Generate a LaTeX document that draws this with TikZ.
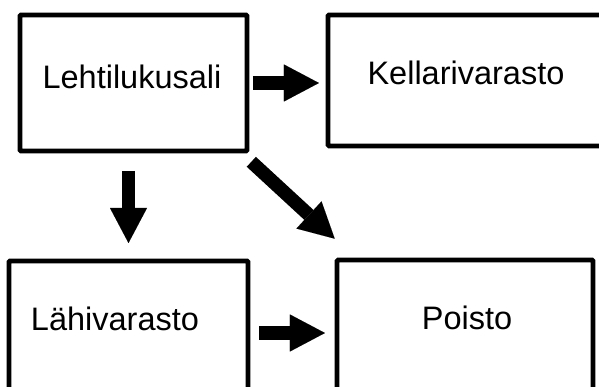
\documentclass[tikz,border=0pt]{standalone}
\usepackage{fontspec}
\setmainfont{Liberation Sans}
\usetikzlibrary{arrows.meta,calc}

\tikzset{
  box/.style={draw, line width=4.6pt, rounded corners=1pt, inner sep=0pt},
  lbl/.style={font=\fontsize{32.5}{38}\selectfont, inner sep=0pt},
  arr/.style={-{Triangle[length=35pt 0 0, width=37pt 0 0, line width=0.01pt]}, line width=13.5pt},
}

\begin{document}
\begin{tikzpicture}[x=1pt, y=-1pt]
    \useasboundingbox (0,0) rectangle (599,387);
    \clip (0,0) rectangle (599,387);

    % boxes
    \node[box, minimum width=227pt, minimum height=136pt] (lehti) at (133.5,83) {};
    \node[box, minimum width=292pt, minimum height=131pt] (kellari) at (474,80.5) {};
    \node[box, minimum width=239pt, minimum height=144pt] (lahi) at (128.5,333) {};
    \node[box, minimum width=256pt, minimum height=146pt] (poisto) at (465,333) {};

    % texts
    \node[lbl] (lehtiT) at (132,76.5) {Lehtilukusali};
    \node[lbl] (kellariT) at (466,72.5) {Kellarivarasto};
    \node[lbl] (lahiT) at (115,319) {Lähivarasto};
    \node[lbl] (poistoT) at (467,317.5) {Poisto};

    % arrows
    \draw[arr, shorten <=3.5pt, shorten >=6.75pt] (lehti.east) -- (lehti.east -| kellari.west);
    \draw[arr, shorten <=17.7pt, shorten >=15.7pt] (lahi.north |- lehti.south) -- (lahi.north);
    \draw[arr] ($(lehti.south east)+(2,8.5)$) -- ($(poisto.north west)+(0,-19)$);
    \draw[arr, shorten <=8.75pt, shorten >=9.75pt] (lahi.east) -- (lahi.east -| poisto.west);
\end{tikzpicture}
\end{document}
